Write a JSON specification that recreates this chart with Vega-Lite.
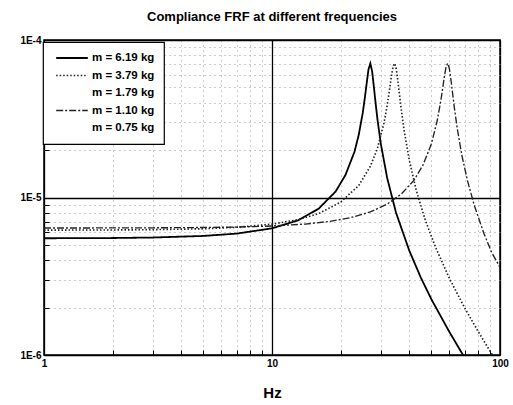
{
  "$schema": "https://vega.github.io/schema/vega-lite/v6.json",
  "width": 456,
  "height": 315,
  "autosize": "none",
  "padding": {"left": 44, "top": 40, "right": 13, "bottom": 50},
  "background": "white",
  "title": {"text": "Compliance FRF at different frequencies", "fontSize": 13, "fontWeight": "bold", "font": "Liberation Sans", "color": "black", "anchor": "middle", "offset": 11},
  "config": {
    "view": {"stroke": "black", "strokeWidth": 1.5},
    "font": "Liberation Sans",
    "legend": {"strokeWidth": 1.2}
  },
  "data": {"values": [
    {"m": "m = 6.19 kg", "f": 1, "H": 5.51e-6},
    {"m": "m = 6.19 kg", "f": 2, "H": 5.53e-6},
    {"m": "m = 6.19 kg", "f": 3, "H": 5.57e-6},
    {"m": "m = 6.19 kg", "f": 5, "H": 5.70e-6},
    {"m": "m = 6.19 kg", "f": 7, "H": 5.90e-6},
    {"m": "m = 6.19 kg", "f": 10, "H": 6.37e-6},
    {"m": "m = 6.19 kg", "f": 13, "H": 7.16e-6},
    {"m": "m = 6.19 kg", "f": 16, "H": 8.48e-6},
    {"m": "m = 6.19 kg", "f": 19, "H": 1.09e-5},
    {"m": "m = 6.19 kg", "f": 21, "H": 1.39e-5},
    {"m": "m = 6.19 kg", "f": 23, "H": 1.95e-5},
    {"m": "m = 6.19 kg", "f": 24, "H": 2.49e-5},
    {"m": "m = 6.19 kg", "f": 25, "H": 3.44e-5},
    {"m": "m = 6.19 kg", "f": 25.5, "H": 4.22e-5},
    {"m": "m = 6.19 kg", "f": 26, "H": 5.27e-5},
    {"m": "m = 6.19 kg", "f": 26.5, "H": 6.50e-5},
    {"m": "m = 6.19 kg", "f": 27, "H": 7.10e-5},
    {"m": "m = 6.19 kg", "f": 27.5, "H": 6.30e-5},
    {"m": "m = 6.19 kg", "f": 28, "H": 4.99e-5},
    {"m": "m = 6.19 kg", "f": 28.5, "H": 3.92e-5},
    {"m": "m = 6.19 kg", "f": 29, "H": 3.15e-5},
    {"m": "m = 6.19 kg", "f": 30, "H": 2.20e-5},
    {"m": "m = 6.19 kg", "f": 32, "H": 1.33e-5},
    {"m": "m = 6.19 kg", "f": 35, "H": 8.0e-6},
    {"m": "m = 6.19 kg", "f": 40, "H": 4.6e-6},
    {"m": "m = 6.19 kg", "f": 45, "H": 3.09e-6},
    {"m": "m = 6.19 kg", "f": 50, "H": 2.26e-6},
    {"m": "m = 6.19 kg", "f": 60, "H": 1.40e-6},
    {"m": "m = 6.19 kg", "f": 70, "H": 9.6e-7},
    {"m": "m = 6.19 kg", "f": 75, "H": 8.2e-7},
    {"m": "m = 3.79 kg", "f": 1, "H": 6.21e-6},
    {"m": "m = 3.79 kg", "f": 2, "H": 6.22e-6},
    {"m": "m = 3.79 kg", "f": 3, "H": 6.25e-6},
    {"m": "m = 3.79 kg", "f": 5, "H": 6.33e-6},
    {"m": "m = 3.79 kg", "f": 7, "H": 6.47e-6},
    {"m": "m = 3.79 kg", "f": 10, "H": 6.77e-6},
    {"m": "m = 3.79 kg", "f": 13, "H": 7.23e-6},
    {"m": "m = 3.79 kg", "f": 16, "H": 7.90e-6},
    {"m": "m = 3.79 kg", "f": 20, "H": 9.34e-6},
    {"m": "m = 3.79 kg", "f": 24, "H": 1.19e-5},
    {"m": "m = 3.79 kg", "f": 27, "H": 1.58e-5},
    {"m": "m = 3.79 kg", "f": 29, "H": 2.05e-5},
    {"m": "m = 3.79 kg", "f": 31, "H": 2.98e-5},
    {"m": "m = 3.79 kg", "f": 32, "H": 3.84e-5},
    {"m": "m = 3.79 kg", "f": 33, "H": 5.20e-5},
    {"m": "m = 3.79 kg", "f": 33.5, "H": 6.07e-5},
    {"m": "m = 3.79 kg", "f": 34, "H": 6.84e-5},
    {"m": "m = 3.79 kg", "f": 34.5, "H": 7.10e-5},
    {"m": "m = 3.79 kg", "f": 35, "H": 6.65e-5},
    {"m": "m = 3.79 kg", "f": 35.5, "H": 5.77e-5},
    {"m": "m = 3.79 kg", "f": 36, "H": 4.87e-5},
    {"m": "m = 3.79 kg", "f": 37, "H": 3.50e-5},
    {"m": "m = 3.79 kg", "f": 38, "H": 2.65e-5},
    {"m": "m = 3.79 kg", "f": 40, "H": 1.73e-5},
    {"m": "m = 3.79 kg", "f": 43, "H": 1.10e-5},
    {"m": "m = 3.79 kg", "f": 47, "H": 7.2e-6},
    {"m": "m = 3.79 kg", "f": 52, "H": 4.88e-6},
    {"m": "m = 3.79 kg", "f": 60, "H": 3.06e-6},
    {"m": "m = 3.79 kg", "f": 70, "H": 1.99e-6},
    {"m": "m = 3.79 kg", "f": 80, "H": 1.42e-6},
    {"m": "m = 3.79 kg", "f": 90, "H": 1.07e-6},
    {"m": "m = 3.79 kg", "f": 100, "H": 8.4e-7},
    {"m": "m = 1.10 kg", "f": 1, "H": 6.40e-6},
    {"m": "m = 1.10 kg", "f": 2, "H": 6.41e-6},
    {"m": "m = 1.10 kg", "f": 3, "H": 6.42e-6},
    {"m": "m = 1.10 kg", "f": 5, "H": 6.45e-6},
    {"m": "m = 1.10 kg", "f": 7, "H": 6.49e-6},
    {"m": "m = 1.10 kg", "f": 10, "H": 6.59e-6},
    {"m": "m = 1.10 kg", "f": 14, "H": 6.78e-6},
    {"m": "m = 1.10 kg", "f": 18, "H": 7.06e-6},
    {"m": "m = 1.10 kg", "f": 22, "H": 7.43e-6},
    {"m": "m = 1.10 kg", "f": 27, "H": 8.10e-6},
    {"m": "m = 1.10 kg", "f": 32, "H": 9.07e-6},
    {"m": "m = 1.10 kg", "f": 37, "H": 1.055e-5},
    {"m": "m = 1.10 kg", "f": 42, "H": 1.29e-5},
    {"m": "m = 1.10 kg", "f": 46, "H": 1.61e-5},
    {"m": "m = 1.10 kg", "f": 50, "H": 2.19e-5},
    {"m": "m = 1.10 kg", "f": 53, "H": 3.06e-5},
    {"m": "m = 1.10 kg", "f": 55, "H": 4.11e-5},
    {"m": "m = 1.10 kg", "f": 56, "H": 4.89e-5},
    {"m": "m = 1.10 kg", "f": 57, "H": 5.84e-5},
    {"m": "m = 1.10 kg", "f": 58, "H": 6.76e-5},
    {"m": "m = 1.10 kg", "f": 59, "H": 7.11e-5},
    {"m": "m = 1.10 kg", "f": 60, "H": 6.56e-5},
    {"m": "m = 1.10 kg", "f": 61, "H": 5.53e-5},
    {"m": "m = 1.10 kg", "f": 62, "H": 4.55e-5},
    {"m": "m = 1.10 kg", "f": 63, "H": 3.76e-5},
    {"m": "m = 1.10 kg", "f": 65, "H": 2.72e-5},
    {"m": "m = 1.10 kg", "f": 68, "H": 1.86e-5},
    {"m": "m = 1.10 kg", "f": 72, "H": 1.28e-5},
    {"m": "m = 1.10 kg", "f": 77, "H": 8.98e-6},
    {"m": "m = 1.10 kg", "f": 85, "H": 5.91e-6},
    {"m": "m = 1.10 kg", "f": 92, "H": 4.47e-6},
    {"m": "m = 1.10 kg", "f": 100, "H": 3.6e-6}
  ]},
  "mark": {"type": "line", "clip": true},
  "encoding": {
    "x": {
      "field": "f", "type": "quantitative",
      "scale": {"type": "log", "domain": [1, 100], "nice": false},
      "axis": {
        "title": "Hz", "titleFontSize": 15, "titleFontWeight": "bold", "titleColor": "black", "titlePadding": 17,
        "values": [1,2,3,4,5,6,7,8,9,10,20,30,40,50,60,70,80,90,100],
        "labelExpr": "indexof([1,10,100], datum.value) >= 0 ? format(datum.value, 'd') : ''",
        "labelFontSize": 10, "labelFontWeight": "bold", "labelColor": "black", "labelPadding": 8,
        "labelFlush": false,
        "domain": false,
        "ticks": true, "tickSize": -5, "tickColor": "black",
        "grid": true,
        "gridColor": {"condition": {"test": "indexof([1,10,100], datum.value) >= 0", "value": "black"}, "value": "#999999"},
        "gridDash": {"condition": {"test": "indexof([1,10,100], datum.value) >= 0", "value": []}, "value": [1, 4]},
        "gridWidth": {"condition": {"test": "indexof([1,10,100], datum.value) >= 0", "value": 1.3}, "value": 1}
      }
    },
    "y": {
      "field": "H", "type": "quantitative",
      "scale": {"type": "log", "domain": [1e-6, 1e-4], "nice": false},
      "axis": {
        "title": null,
        "values": [1e-6,2e-6,3e-6,4e-6,5e-6,6e-6,7e-6,8e-6,9e-6,1e-5,2e-5,3e-5,4e-5,5e-5,6e-5,7e-5,8e-5,9e-5,1e-4],
        "labelExpr": "abs(log(datum.value)/LN10 - round(log(datum.value)/LN10)) < 0.01 ? '1E' + round(log(datum.value)/LN10) : ''",
        "labelFontSize": 10, "labelFontWeight": "bold", "labelColor": "black", "labelPadding": 8,
        "labelFlush": false,
        "domain": false,
        "ticks": true, "tickSize": -5, "tickColor": "black",
        "grid": true,
        "gridColor": {"condition": {"test": "abs(log(datum.value)/LN10 - round(log(datum.value)/LN10)) < 0.01", "value": "black"}, "value": "#999999"},
        "gridDash": {"condition": {"test": "abs(log(datum.value)/LN10 - round(log(datum.value)/LN10)) < 0.01", "value": []}, "value": [1, 4]},
        "gridWidth": {"condition": {"test": "abs(log(datum.value)/LN10 - round(log(datum.value)/LN10)) < 0.01", "value": 1.3}, "value": 1}
      }
    },
    "color": {
      "field": "m", "type": "nominal",
      "scale": {"domain": ["m = 6.19 kg", "m = 3.79 kg", "m = 1.79 kg", "m = 1.10 kg", "m = 0.75 kg"], "range": ["black", "#222222", "transparent", "#222222", "transparent"]},
      "legend": {
        "title": null, "orient": "none", "legendX": -1, "legendY": 2,
        "fillColor": "white", "strokeColor": "black",
        "padding": 9, "symbolOffset": 3, "symbolType": "stroke", "symbolSize": 1000, "symbolStrokeWidth": 1.3,
        "clipHeight": 14, "rowPadding": 3.5, "labelOffset": 3,
        "labelFontSize": 11.5, "labelFontWeight": "bold", "labelColor": "black"
      }
    },
    "strokeDash": {
      "field": "m", "type": "nominal",
      "scale": {"domain": ["m = 6.19 kg", "m = 3.79 kg", "m = 1.79 kg", "m = 1.10 kg", "m = 0.75 kg"], "range": [[1, 0], [1.5, 2], [1, 0], [7, 2, 2, 2], [1, 0]]}
    },
    "strokeWidth": {
      "field": "m", "type": "nominal",
      "scale": {"domain": ["m = 6.19 kg", "m = 3.79 kg", "m = 1.79 kg", "m = 1.10 kg", "m = 0.75 kg"], "range": [1.8, 1.2, 1, 1.2, 1]},
      "legend": null
    }
  }
}
